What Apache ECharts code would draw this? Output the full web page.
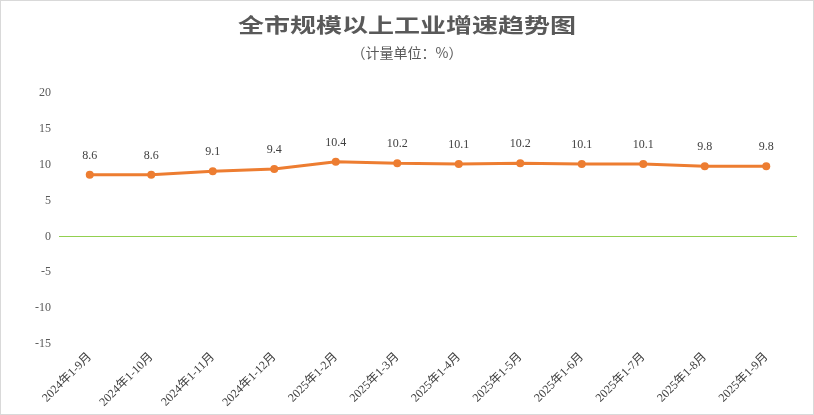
<!DOCTYPE html>
<html lang="zh">

<head>
    <meta charset="UTF-8">
    <title>全市规模以上工业增速趋势图</title>
    <script src="https://cdn.jsdelivr.net/npm/echarts@6/dist/echarts.min.js"></script>
    <style>
        body { margin: 0; background: #fff; }
        #frame { width: 812px; height: 413px; border: 1px solid #d9d9d9; }
        #main { width: 812px; height: 413px; }
    </style>
</head>

<body>
    <div id="frame"><div id="main"></div></div>
    <script>
        // 数据
        var months = ['2024年1-9月', '2024年1-10月', '2024年1-11月', '2024年1-12月', '2025年1-2月', '2025年1-3月',
            '2025年1-4月', '2025年1-5月', '2025年1-6月', '2025年1-7月', '2025年1-8月', '2025年1-9月'];
        var growth = [8.6, 8.6, 9.1, 9.4, 10.4, 10.2, 10.1, 10.2, 10.1, 10.1, 9.8, 9.8];
        var yTicks = [-15, 20, 5]; // min, max, interval

        var serif = '"Times New Roman", "Liberation Serif", "Noto Sans CJK SC", serif';
        var myChart = echarts.init(document.getElementById('main'));

        var option = {
            animation: false,
            // 标题字形较宽，用 graphic 横向拉伸
            graphic: [
                {
                    type: 'text',
                    left: 'center',
                    top: 14,
                    scaleX: 1.3,
                    style: {
                        text: '全市规模以上工业增速趋势图',
                        font: 'bold 20px "Noto Sans CJK SC", sans-serif',
                        fill: '#595959'
                    }
                }
            ],
            title: {
                text: '（计量单位：%）',
                left: 'center',
                top: 40,
                textStyle: {
                    fontFamily: '"Noto Sans CJK SC", sans-serif',
                    fontWeight: 'normal',
                    fontSize: 14,
                    color: '#595959'
                }
            },
            grid: {
                left: 58,
                right: 16,
                top: 92,
                bottom: 70,
                containLabel: false
            },
            xAxis: {
                type: 'category',
                data: months,
                boundaryGap: true,
                axisLine: { show: false },
                axisTick: { show: false },
                axisLabel: {
                    interval: 0,
                    rotate: 45,
                    margin: 11,
                    fontFamily: serif,
                    fontSize: 12,
                    color: '#404040'
                }
            },
            yAxis: {
                type: 'value',
                min: yTicks[0],
                max: yTicks[1],
                interval: yTicks[2],
                axisLine: { show: false },
                axisTick: { show: false },
                splitLine: { show: false },
                axisLabel: {
                    margin: 8,
                    fontFamily: serif,
                    fontSize: 12,
                    color: '#595959'
                }
            },
            series: [
                {
                    name: '增速',
                    type: 'line',
                    data: growth,
                    symbol: 'circle',
                    symbolSize: 8,
                    lineStyle: { color: '#ED7D31', width: 3 },
                    itemStyle: { color: '#ED7D31' },
                    label: {
                        show: true,
                        position: 'top',
                        distance: 9,
                        fontFamily: serif,
                        fontSize: 12,
                        color: '#404040'
                    },
                    markLine: {
                        silent: true,
                        symbol: 'none',
                        label: { show: false },
                        lineStyle: { color: '#92D050', width: 1, type: 'solid' },
                        data: [{ yAxis: 0 }]
                    }
                }
            ]
        };

        myChart.setOption(option);
    </script>
</body>

</html>
